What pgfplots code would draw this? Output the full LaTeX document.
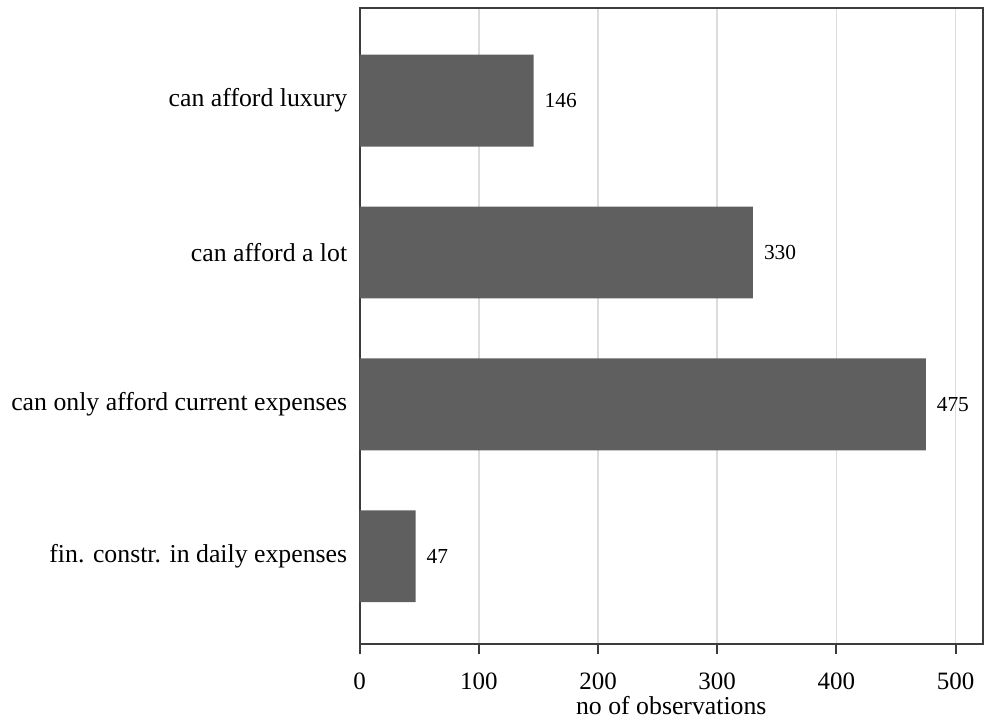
\documentclass[border=0pt]{standalone}
\usepackage{pgfplots}
\pgfplotsset{compat=1.18}
\usepackage{fontspec}
\setmainfont{Liberation Serif}
\definecolor{barcol}{HTML}{5F5F5F}
\definecolor{gridcol}{HTML}{DCDCDC}
\definecolor{framecol}{HTML}{3C3C3C}
\begin{document}
\begin{tikzpicture}
\begin{axis}[
  name=ax,
  scale only axis,
  width=312pt, height=318.5pt,
  xbar, bar width=46pt,
  xmin=0, xmax=523,
  ymin=0.42, ymax=4.61,
  ytick={1,2,3,4},
  yticklabels={fin. constr. in daily expenses, can only afford current expenses, can afford a lot, can afford luxury},
  xtick={0,100,200,300,400,500},
  xtick pos=bottom,
  ytick pos=left,
  tick align=outside,
  major tick length=5pt,
  ytick style={/pgfplots/major tick length=0pt},
  xtick style={color=framecol, line width=1pt},
  axis line style={draw=framecol, line width=1pt},
  xmajorgrids,
  grid style={draw=gridcol, line width=0.75pt},
  /pgf/number format/assume math mode=true,
  yticklabel style={font=\fontsize{12.9}{15}\selectfont, xshift=2.3pt},
  xticklabel style={font=\fontsize{12.5}{14}\selectfont, yshift=-6pt},
  xlabel={no of observations},
  xlabel style={font=\fontsize{12.9}{15}\selectfont, yshift=4pt},
  nodes near coords,
  nodes near coords style={font=\fontsize{10.7}{12}\selectfont, anchor=west, xshift=2pt, text=black},
]
\addplot[fill=barcol, draw=none] coordinates {(47,1) (475,2) (330,3) (146,4)};
\end{axis}
\path ([shift={(-180pt,-38.5pt)}]ax.south west) rectangle ([shift={(0.5pt,4pt)}]ax.north east);
\end{tikzpicture}
\end{document}
